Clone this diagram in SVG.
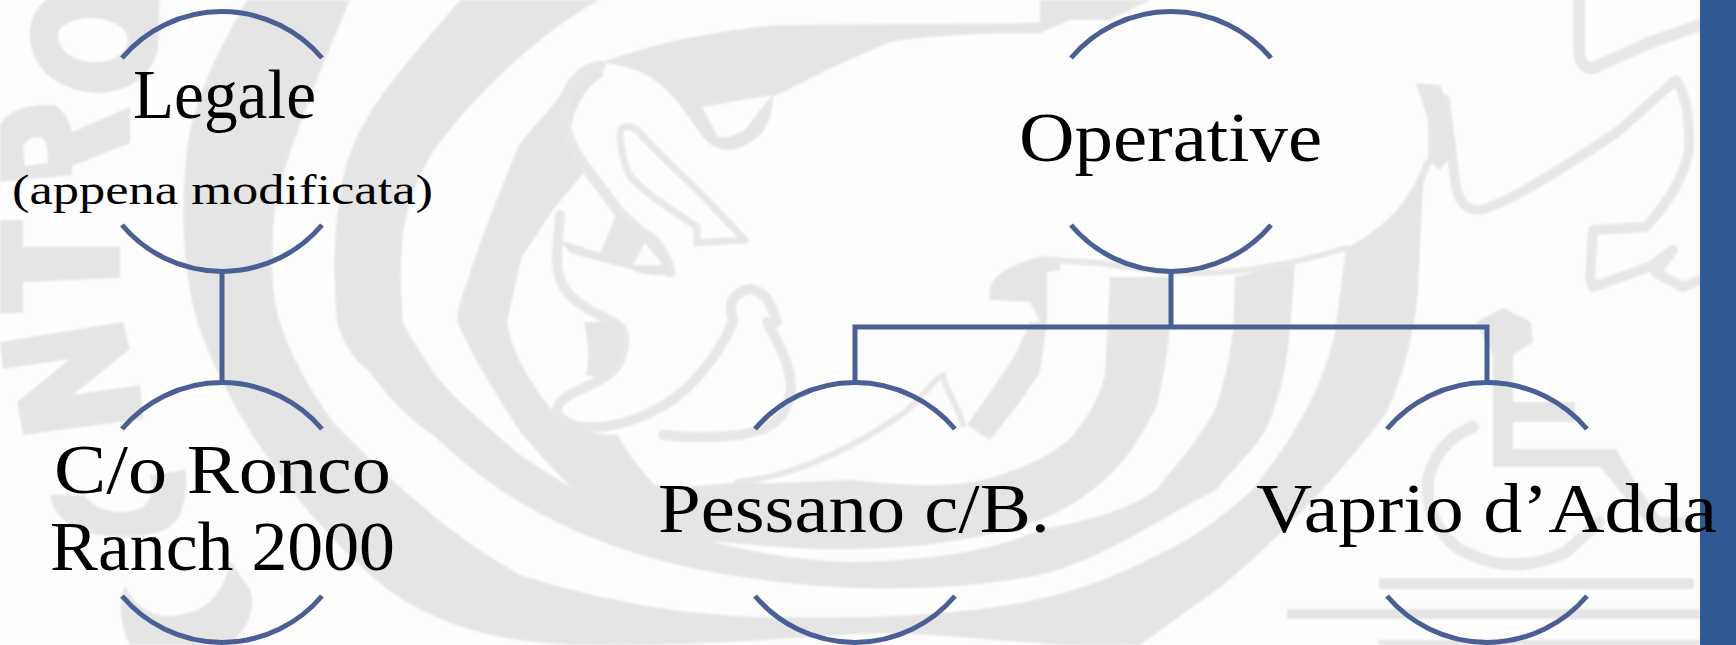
<svg xmlns="http://www.w3.org/2000/svg" width="1736" height="645" viewBox="0 0 1736 645">
<style>
.wm{fill:#e5e5e5;stroke:none}
.wl{fill:none;stroke:#e7e7e7;stroke-linecap:round;stroke-linejoin:round}
.arc{fill:none;stroke:#4a5f94;stroke-width:5}
.conn{fill:none;stroke:#4a5f94;stroke-width:5;stroke-linejoin:miter}
text{font-family:"Liberation Serif","DejaVu Serif",serif;fill:#000;text-anchor:start}
.big{font-size:69px}
.small{font-size:43px}
</style>
<defs>
<filter id="soft" x="-2%" y="-2%" width="104%" height="104%"><feGaussianBlur stdDeviation="1.2"/></filter>
<g id="arcs">
<path d="M-100 -83 A131 131 0 0 1 100 -83"/>
<path d="M-100 84 A131 131 0 0 0 100 84"/>
</g>
</defs>
<rect width="1736" height="645" fill="#fdfdfd"/>
<g id="watermark" filter="url(#soft)">
<!-- band B -->
<path class="wm" d="M247 0 C225 40 195 90 187 150 C180 210 183 280 200 330 C225 400 290 510 387 589 C430 620 480 635 520 640 C580 650 700 645 853 634 C950 630 1040 650 1140 645 L1223 585 C1290 530 1360 450 1387 412 C1405 370 1415 330 1418 290 L1423 183 L1434 158 L1425 160 C1410 200 1390 225 1346 248 L1335 332 C1325 380 1300 430 1253 489 C1220 520 1190 540 1157 555 C1100 585 1040 605 950 612 C900 617 850 618 760 617 C680 615 600 600 520 575 C450 535 400 490 333 422 C310 390 290 355 280 322 C270 290 272 260 273 233 C275 200 280 165 350 0 Z"/>
<!-- band A -->
<path class="wm" d="M460 0 C410 60 360 110 345 170 C335 210 332 260 337 322 C345 350 360 365 367 369 C390 400 410 420 433 435 C460 460 490 485 520 502 C600 550 700 580 853 588 C930 590 990 585 1040 575 C1100 560 1150 525 1217 489 C1245 455 1265 440 1273 412 C1285 380 1290 350 1295 262 L1235 277 L1233 332 C1228 370 1220 395 1217 405 C1200 440 1175 465 1157 489 C1130 510 1090 520 1040 530 C980 555 920 560 853 562 C760 560 680 535 620 510 C580 495 550 475 520 455 C480 420 450 395 433 372 C420 350 408 335 403 322 C400 290 400 260 403 233 C410 190 430 150 450 130 C480 90 550 25 600 0 Z"/>
<!-- band C -->
<path class="wm" d="M467 283 C480 240 500 190 520 143 C535 125 550 110 557 100 C565 85 580 70 600 63 L603 76 C590 85 575 100 570 133 C572 150 578 165 583 173 L553 210 L520 260 L527 233 L507 322 C510 340 515 350 520 362 C530 380 545 405 565 425 C585 432 600 435 617 435 C630 455 640 470 655 485 C680 490 710 484 740 482 C780 485 820 480 853 480 C900 485 960 490 1000 475 C1030 465 1050 455 1070 439 C1090 415 1100 395 1105 375 L1110 277 L1170 277 L1170 322 C1168 360 1160 390 1157 405 C1145 430 1130 455 1113 472 C1090 495 1065 510 1040 520 C980 540 920 548 853 549 C800 550 750 545 700 540 C660 530 630 525 600 510 C570 490 545 460 520 432 C500 400 480 370 457 322 C458 305 462 295 467 283 Z"/>
<!-- swoosh -->
<path class="wm" fill-rule="evenodd" d="M600 63 C650 45 700 33 775 25 L1040 23 L1040 0 L1150 0 L1110 20 L1070 20 L1040 33 L1000 33 C950 35 910 38 890 42 C860 55 830 68 813 77 L773 97 C772 115 768 125 760 135 C745 148 735 150 725 150 C712 148 705 140 700 133 L680 105 C670 92 655 78 640 72 C625 66 612 63 600 63 Z M702 107 L773 95 L760 110 L745 130 L730 137 L718 137 Z"/>
<path class="wm" d="M990 300 C985 280 1005 265 1040 257 L1060 257 L1060 270 L1047 272 L1047 322 L1040 322 L1030 302 Z"/>
<path class="wm" d="M1030 322 L1047 322 L1040 372 L1020 402 L990 440 L967 425 L995 385 L1015 355 Z"/>
<!-- head boundary thin strip -->
<path class="wl" stroke-width="6" d="M1040 259 L1100 263 C1130 268 1170 273 1205 273 C1250 272 1300 262 1346 248"/>
<!-- bird outlines -->
<path class="wl" stroke-width="11" d="M600 66 C580 70 567 85 565 105 C563 125 567 145 590 173 L620 213 C635 228 645 235 653 240 C662 250 668 262 670 272"/>
<path class="wl" stroke-width="7" d="M620 132 C622 125 630 125 637 130 L653 147 L707 200 L745 240 L697 243 L697 227 L653 197 C638 185 630 178 627 170 C622 155 620 145 620 132 Z"/>
<path class="wm" fill-rule="evenodd" d="M600 253 L617 213 L663 257 L672 275 C655 276 640 274 633 270 L570 253 L560 240 Z M645 243 L663 265 L633 265 Z"/>
<path class="wl" stroke-width="10" d="M560 215 L557 253 C556 270 560 285 570 295 C585 310 600 315 613 322"/>
<path class="wl" stroke-width="10" d="M733 322 C727 300 735 292 750 289 C765 292 770 300 777 322"/>
<path class="wl" stroke-width="10" d="M733 322 C725 340 710 365 690 385 C670 405 640 420 613 425 C590 430 565 428 557 412 C555 400 575 392 590 385 C612 375 624 365 624 340 C624 330 620 325 612 322"/>
<path class="wm" d="M584 322 L622 322 C630 345 622 368 600 378 L586 375 C590 360 588 340 584 322 Z"/>
<path class="wl" stroke-width="10" d="M767 322 C780 345 795 375 790 395 C785 420 770 430 740 435 C710 438 680 437 663 435"/>
<path class="wl" stroke-width="6" d="M963 425 C958 405 945 390 943 375 C935 378 925 395 905 412 C880 430 840 455 787 472 C770 478 750 480 737 482"/>
<!-- letters -->
<path class="wm" fill-rule="evenodd" d="M30 35 C30 0 60 -10 75 -10 L160 -10 L158 50 C150 80 125 93 95 93 C60 90 30 70 30 35 Z M58 35 C58 25 75 17 95 18 C115 20 130 30 128 42 C125 55 110 64 90 62 C72 60 58 50 58 35 Z"/>
<path class="wm" fill-rule="evenodd" d="M0 125 C8 110 30 103 55 105 C65 112 70 122 72 132 L130 107 L130 143 L72 166 L72 175 L0 182 Z M23 148 C25 140 35 135 42 138 C48 142 48 155 48 163 L25 166 Z"/>
<path class="wm" d="M0 220 L23 220 L23 247 L120 247 L120 278 L23 282 L23 313 L0 313 Z"/>
<path class="wm" d="M0 342 L123 322 L130 349 L73 395 L140 385 L143 419 L23 435 L17 402 L70 359 L3 369 Z"/>
<path class="wm" fill-rule="evenodd" d="M50 495 C55 525 85 535 110 536 C140 538 170 535 180 515 C187 495 187 480 185 470 L150 475 C155 495 150 510 125 512 C105 513 90 505 85 495 Z"/>
<path class="wm" d="M125 585 C135 610 160 620 180 615 C210 610 225 590 230 560 L250 590 C258 610 245 630 230 645 L130 645 C120 625 118 600 125 585 Z"/>
<!-- wings and lines -->
<path class="wl" stroke-width="10" d="M1445 100 L1450 140 L1456 187 C1460 205 1468 210 1480 210 C1500 205 1530 190 1616 133 L1676 80 C1688 95 1690 130 1689 150 C1685 175 1670 200 1646 227 L1593 230 L1590 277 L1593 287 L1649 267 L1673 250 L1656 273 L1683 287 L1700 280"/>
<path class="wm" d="M1416 83 L1440 85 L1450 110 L1456 150 L1440 170 L1428 160 L1428 120 Z"/>
<path class="wl" stroke-width="12" d="M1579 0 L1579 50 C1580 65 1585 68 1593 68 L1649 43 L1700 25"/>
<!-- wheelchair emblem -->
<path class="wm" d="M1476 322 L1503 308 L1531 322 L1533 342 L1513 355 L1513 402 L1575 402 L1575 422 L1513 422 L1513 449 L1616 449 L1640 490 L1660 517 L1690 517 L1690 530 L1652 530 L1600 467 L1493 467 L1493 355 Z"/>
<path class="wl" stroke-width="12" d="M1473 427 C1450 435 1433 455 1428 480 C1425 510 1440 535 1459 549 C1480 560 1495 564 1509 564 C1530 565 1550 560 1566 552 L1599 522"/>
<rect class="wm" x="1379" y="578" width="315" height="11"/>
<rect class="wm" x="1287" y="609" width="413" height="10"/>
<rect class="wm" x="1379" y="640" width="321" height="5"/>
</g>
<rect x="1700" y="0" width="36" height="645" fill="#2f5a96"/>
<g id="connectors">
<path class="conn" d="M222 270 V381"/>
<path class="conn" d="M1171 270 V327"/>
<path class="conn" d="M855 381 V327 H1487 V381"/>
</g>
<g id="node-legale">
<use href="#arcs" class="arc" transform="translate(222,141)"/>
<text class="big" x="133" y="118" textLength="183" lengthAdjust="spacingAndGlyphs">Legale</text>
<text class="small" x="12" y="204" textLength="421" lengthAdjust="spacingAndGlyphs">(appena modificata)</text>
</g>
<g id="node-operative">
<use href="#arcs" class="arc" transform="translate(1171,141)"/>
<text class="big" x="1019" y="161" textLength="303" lengthAdjust="spacingAndGlyphs">Operative</text>
</g>
<g id="node-ronco">
<use href="#arcs" class="arc" transform="translate(222,512)"/>
<text class="big" x="54" y="493" textLength="337" lengthAdjust="spacingAndGlyphs">C/o Ronco</text>
<text class="big" x="50" y="570" textLength="345" lengthAdjust="spacingAndGlyphs">Ranch 2000</text>
</g>
<g id="node-pessano">
<use href="#arcs" class="arc" transform="translate(855,512)"/>
<text class="big" x="658" y="532" textLength="392" lengthAdjust="spacingAndGlyphs">Pessano c/B.</text>
</g>
<g id="node-vaprio">
<use href="#arcs" class="arc" transform="translate(1487,512)"/>
<text class="big" x="1256" y="532" textLength="461" lengthAdjust="spacingAndGlyphs">Vaprio d’Adda</text>
</g>
</svg>
